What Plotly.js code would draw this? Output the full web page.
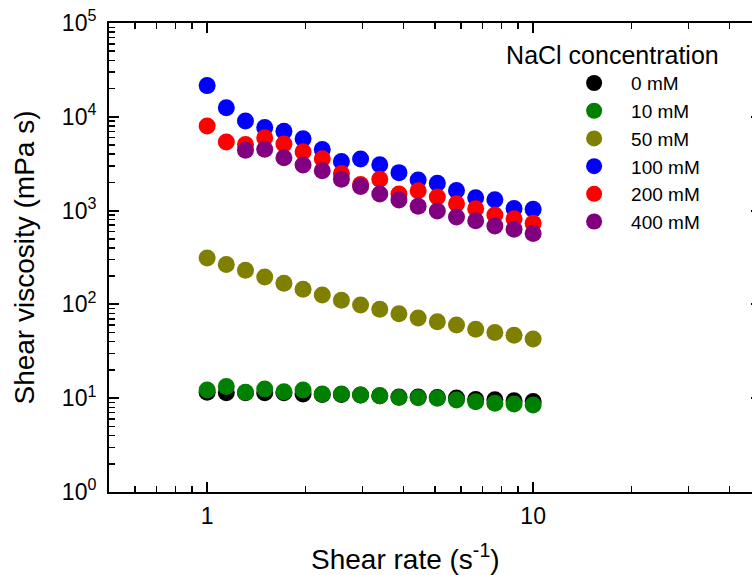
<!DOCTYPE html>
<html>
<head>
<meta charset="utf-8">
<script src="https://cdn.plot.ly/plotly-3.0.1.min.js"></script>
<style>
  html, body { margin: 0; padding: 0; overflow: hidden; background: #fff; }
  #chart { width: 770px; height: 575px; }
</style>
</head>
<body>
<div id="chart"></div>
<script>
// Shear rate (s^-1), 18 log-spaced points from 1 to 10
var shearRate = [1, 1.145, 1.311, 1.502, 1.720, 1.969, 2.255, 2.582, 2.956, 3.385,
                 3.876, 4.439, 5.083, 5.820, 6.665, 7.632, 8.739, 10];

// Shear viscosity (mPa s) for each NaCl concentration
var visc0mM   = [11.6, 11.4, 11.4, 11.4, 11.4, 11.1, 10.95, 10.95, 10.8, 10.6,
                 10.3, 10.3, 10.2, 10.05, 9.7, 9.6, 9.4, 9.2];
var visc10mM  = [12.2, 13.3, 11.6, 12.5, 11.7, 12.2, 11.1, 11.1, 10.8, 10.6,
                 10.2, 10.1, 9.97, 9.57, 9.18, 8.82, 8.67, 8.46];
var visc50mM  = [312, 266, 231, 196, 168, 145, 126, 111, 98.6, 88.7,
                 79.6, 71.6, 65.4, 60.3, 54.4, 50.2, 46.8, 42.8];
var visc100mM = [21500, 12500, 9020, 7690, 7000, 5840, 4480, 3330, 3550, 3090,
                 2540, 2120, 1955, 1640, 1370, 1307, 1053, 1032];
var visc200mM = [7980, 5390, 5070, 5970, 5130, 4250, 3565, 2490, 1900, 2160,
                 1500, 1630, 1396, 1185, 1045, 898, 818, 732];
var visc400mM = [null, null, 4395, 4505, 3656, 3063, 2663, 2157, 1807, 1503,
                 1297, 1111, 990, 855, 780, 685, 632, 570];

var seriesNames  = ['0 mM', '10 mM', '50 mM', '100 mM', '200 mM', '400 mM'];
var seriesColors = ['#000000', '#008000', '#808000', '#0000ff', '#ff0000', '#800080'];
var seriesValues = [visc0mM, visc10mM, visc50mM, visc100mM, visc200mM, visc400mM];

// Tick labels
var xTickVals = [1, 10];
var xTickText = ['1', '10'];
var yTickVals = [1, 10, 100, 1000, 10000, 100000];
var yTickText = ['10<sup>0</sup>', '10<sup>1</sup>', '10<sup>2</sup>', '10<sup>3</sup>', '10<sup>4</sup>', '10<sup>5</sup>'];

var FONT = 'Liberation Sans, Arial, Helvetica, sans-serif';

var traces = seriesNames.map(function (name, i) {
  return {
    type: 'scatter',
    mode: 'markers',
    name: name,
    x: shearRate,
    y: seriesValues[i],
    marker: { color: seriesColors[i], size: 17, line: { width: 0 } },
    showlegend: true
  };
});

var axisCommon = {
  type: 'log',
  showline: true,
  linecolor: '#000',
  linewidth: 2,
  mirror: 'ticks',
  ticks: 'inside',
  ticklen: 10,
  tickwidth: 2,
  tickcolor: '#000',
  showgrid: false,
  zeroline: false,
  tickmode: 'array',
  tickfont: { family: FONT, size: 23, color: '#000' },
  minor: { ticks: 'inside', ticklen: 6, tickwidth: 1.5, tickcolor: '#000', dtick: 'D1', showgrid: false }
};

var layout = {
  width: 770,
  height: 575,
  margin: { l: 109, r: 9, t: 23, b: 83 },
  paper_bgcolor: '#fff',
  plot_bgcolor: '#fff',
  showlegend: true,
  font: { family: FONT, color: '#000' },
  xaxis: Object.assign({}, axisCommon, {
    range: [Math.log10(0.5), Math.log10(50)],
    tickvals: xTickVals,
    ticktext: xTickText,
    ticklabelstandoff: 2
  }),
  yaxis: Object.assign({}, axisCommon, {
    range: [0, 5],
    tickvals: yTickVals,
    ticktext: yTickText,
    ticklabelstandoff: 6,
    title: { text: 'Shear viscosity (mPa s)', font: { family: FONT, size: 28, color: '#000' }, standoff: 19 }
  }),
  legend: {
    x: 0.606, xanchor: 'left',
    y: 0.9815, yanchor: 'top',
    bgcolor: 'rgba(0,0,0,0)',
    font: { family: FONT, size: 19, color: '#000' },
    title: { text: 'NaCl concentration', font: { family: FONT, size: 25, color: '#000' }, side: 'top' },
    itemwidth: 64,
    indentation: 53,
    tracegroupgap: 0
  },
  annotations: [{
    text: 'Shear rate (s<sup>-1</sup>)',
    xref: 'paper', yref: 'paper',
    x: 0.454, y: -0.1386,
    xanchor: 'center', yanchor: 'middle',
    showarrow: false,
    font: { family: FONT, size: 28, color: '#000' }
  }]
};

Plotly.newPlot('chart', traces, layout, { displayModeBar: false, staticPlot: true });
</script>
</body>
</html>
